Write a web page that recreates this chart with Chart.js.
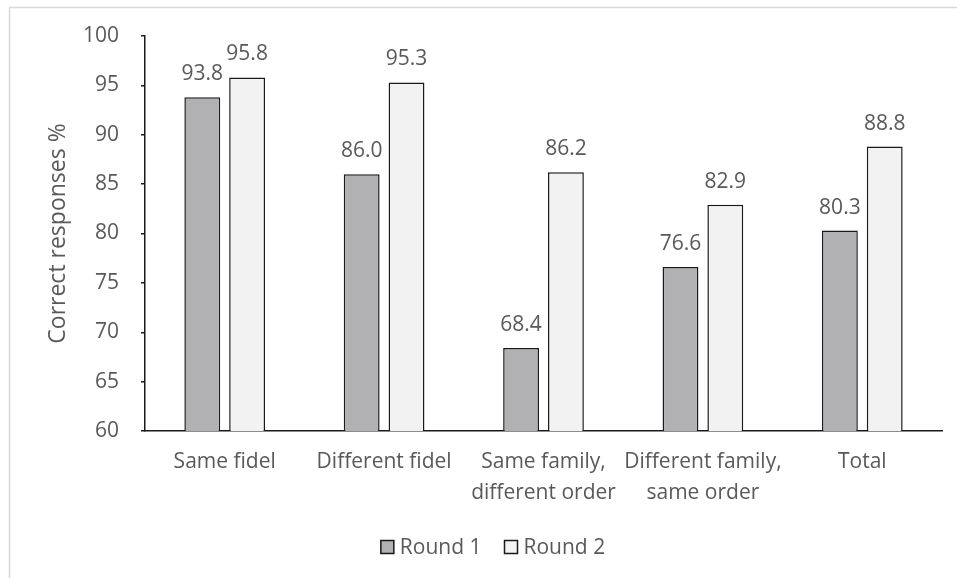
<!DOCTYPE html>
<html>
<head>
<meta charset="utf-8">
<script src="https://cdn.jsdelivr.net/npm/chart.js@4/dist/chart.umd.min.js"></script>
<style>
  html, body { margin: 0; padding: 0; background: #ffffff; }
  #wrap { width: 957px; height: 578px; position: relative; }
</style>
</head>
<body>
<div id="wrap"><canvas id="c" width="957" height="578"></canvas></div>
<script>
const categories = [
  'Same fidel',
  'Different fidel',
  ['Same family,', 'different order'],
  ['Different family,', 'same order'],
  'Total'
];
const round1 = [93.8, 86.0, 68.4, 76.6, 80.3];
const round2 = [95.8, 95.3, 86.2, 82.9, 88.8];
const yTicks = [60, 65, 70, 75, 80, 85, 90, 95, 100];

const FONT = "'Open Sans', 'Liberation Sans', sans-serif";
const TEXT = '#595959';
const EDGE = '#1a1a1a';

// Light frame around the chart
const framePlugin = {
  id: 'frame',
  beforeDraw(chart) {
    const ctx = chart.ctx;
    ctx.save();
    ctx.strokeStyle = '#d9d9d9';
    ctx.lineWidth = 1.5;
    ctx.beginPath();
    ctx.moveTo(9.5, chart.height);
    ctx.lineTo(9.5, 7.5);
    ctx.lineTo(chart.width, 7.5);
    ctx.stroke();
    ctx.restore();
  }
};

// Value labels above each bar
const valueLabels = {
  id: 'valueLabels',
  afterDatasetsDraw(chart) {
    const ctx = chart.ctx;
    ctx.save();
    ctx.font = '21px ' + FONT;
    ctx.fillStyle = TEXT;
    ctx.textAlign = 'center';
    ctx.textBaseline = 'alphabetic';
    chart.data.datasets.forEach((ds, i) => {
      chart.getDatasetMeta(i).data.forEach((bar, j) => {
        ctx.fillText(ds.data[j].toFixed(1), bar.x, bar.y - 17);
      });
    });
    ctx.restore();
  }
};

// Legend row under the axis: square swatch followed by the series name
const bottomLegend = {
  id: 'bottomLegend',
  afterDraw(chart) {
    const ctx = chart.ctx;
    const box = 13, gapText = 6, gapItem = 23, cy = 547, centerX = 493;
    ctx.save();
    ctx.font = '21px ' + FONT;
    ctx.textBaseline = 'middle';
    ctx.textAlign = 'left';
    const items = chart.data.datasets.map(ds => ({ ds, w: ctx.measureText(ds.label).width }));
    const total = items.reduce((s, it) => s + box + gapText + it.w, 0) + gapItem * (items.length - 1);
    let x = centerX - total / 2;
    items.forEach(it => {
      ctx.fillStyle = it.ds.backgroundColor;
      ctx.fillRect(x, cy - box / 2, box, box);
      ctx.strokeStyle = EDGE;
      ctx.lineWidth = 1.5;
      ctx.strokeRect(x, cy - box / 2, box, box);
      ctx.fillStyle = TEXT;
      ctx.fillText(it.ds.label, x + box + gapText, cy + 1);
      x += box + gapText + it.w + gapItem;
    });
    ctx.restore();
  }
};

new Chart(document.getElementById('c'), {
  type: 'bar',
  data: {
    labels: categories,
    datasets: [
      { label: 'Round 1', data: round1, backgroundColor: '#b1b1b4', borderColor: EDGE, borderWidth: 1.5 },
      { label: 'Round 2', data: round2, backgroundColor: '#f2f2f2', borderColor: EDGE, borderWidth: 1.5 }
    ]
  },
  options: {
    responsive: false,
    animation: false,
    devicePixelRatio: 1,
    layout: { padding: { top: 36, right: 15, bottom: 0, left: 0 } },
    datasets: { bar: { barPercentage: 0.8, categoryPercentage: 0.5625 } },
    plugins: {
      legend: { display: false },
      tooltip: { enabled: false }
    },
    scales: {
      x: {
        grid: { display: false, drawTicks: false },
        border: { display: true, color: EDGE, width: 1.5 },
        ticks: { font: { size: 21, family: FONT, lineHeight: 1.5 }, color: TEXT, padding: 15, maxRotation: 0, autoSkip: false },
        afterFit(scale) { scale.height = 147; }
      },
      y: {
        min: 60,
        max: 100,
        afterBuildTicks(scale) { scale.ticks = yTicks.map(v => ({ value: v })); },
        grid: { drawOnChartArea: false, drawTicks: true, tickLength: 4, color: EDGE, lineWidth: 1.5 },
        border: { display: true, color: EDGE, width: 1.5 },
        ticks: { font: { size: 21, family: FONT }, color: TEXT, padding: 22 },
        title: {
          display: true,
          text: 'Correct responses %',
          font: { size: 23, family: FONT },
          color: TEXT,
          padding: { top: 45, bottom: 0 }
        },
        afterFit(scale) { scale.width = 145; }
      }
    }
  },
  plugins: [framePlugin, valueLabels, bottomLegend]
});
</script>
</body>
</html>
